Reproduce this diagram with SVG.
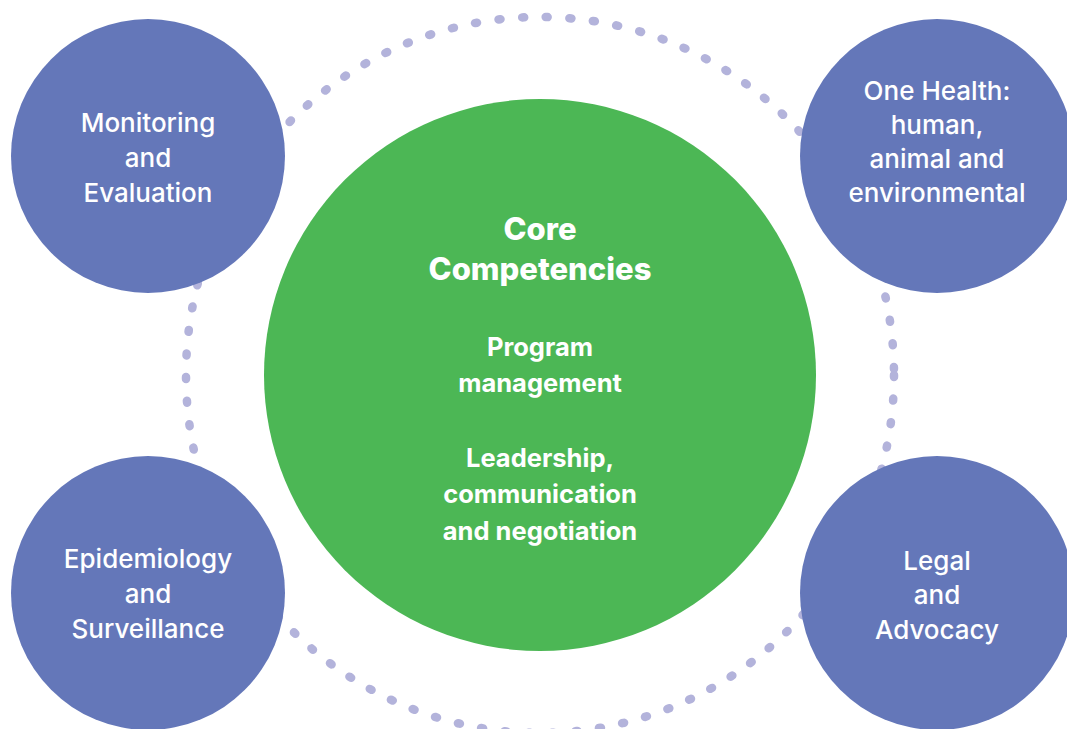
<svg xmlns="http://www.w3.org/2000/svg" width="1067" height="729" viewBox="0 0 1067 729">
<style>
.ring{fill:none;stroke:#b3b3db;stroke-width:8.5;stroke-linecap:round;stroke-dasharray:2 21.7}
.blue{fill:#6477b9}
.green{fill:#4cb755}
.t{font-family:Inter,"Liberation Sans",sans-serif;font-weight:500;font-size:26px;fill:#ffffff;text-anchor:middle}
.h{font-family:Inter,"Liberation Sans",sans-serif;font-weight:800;font-size:31px;fill:#ffffff;text-anchor:middle}
.c{font-family:Inter,"Liberation Sans",sans-serif;font-weight:700;font-size:25.5px;fill:#ffffff;text-anchor:middle}
</style>
<rect width="1067" height="729" fill="#ffffff"/>
<g id="connectors">
<ellipse class="ring" cx="540" cy="375" rx="354" ry="358"/>
</g>
<g id="core">
<circle class="green" cx="540" cy="375" r="276"/>
<text class="h" x="540" y="240">Core</text>
<text class="h" x="540" y="280">Competencies</text>
<text class="c" x="540" y="356">Program</text>
<text class="c" x="540" y="392">management</text>
<text class="c" x="540" y="467">Leadership,</text>
<text class="c" x="540" y="503">communication</text>
<text class="c" x="540" y="540">and negotiation</text>
</g>
<g id="monitoring">
<circle class="blue" cx="148" cy="156" r="137"/>
<text class="t" x="148" y="132">Monitoring</text>
<text class="t" x="148" y="167">and</text>
<text class="t" x="148" y="202">Evaluation</text>
</g>
<g id="onehealth">
<circle class="blue" cx="937" cy="156" r="137"/>
<text class="t" x="937" y="100">One Health:</text>
<text class="t" x="937" y="134">human,</text>
<text class="t" x="937" y="168">animal and</text>
<text class="t" x="937" y="202">environmental</text>
</g>
<g id="epidemiology">
<circle class="blue" cx="148" cy="593" r="137"/>
<text class="t" x="148" y="568">Epidemiology</text>
<text class="t" x="148" y="603">and</text>
<text class="t" x="148" y="638">Surveillance</text>
</g>
<g id="legal">
<circle class="blue" cx="937" cy="593" r="137"/>
<text class="t" x="937" y="570">Legal</text>
<text class="t" x="937" y="604">and</text>
<text class="t" x="937" y="639">Advocacy</text>
</g>
</svg>
